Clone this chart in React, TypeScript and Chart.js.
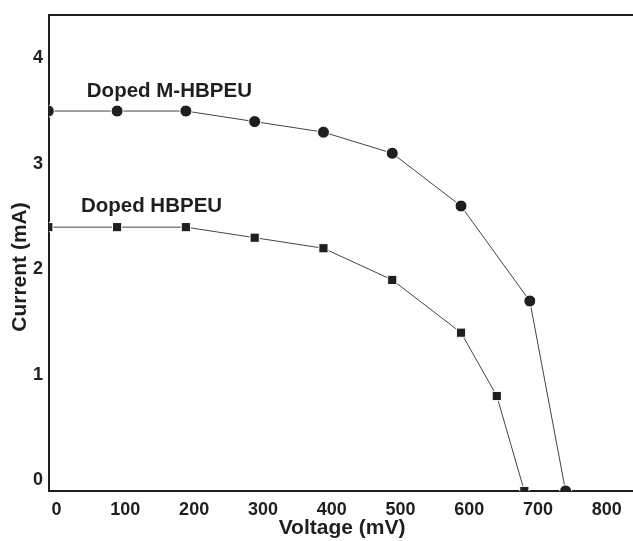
import React, { useEffect, useRef } from "react";
import { Chart, registerables } from "chart.js";

Chart.register(...registerables);

const voltageMHBPEU = [-12, 88, 188, 288, 388, 488, 588, 688, 740];
const currentMHBPEU = [3.5, 3.5, 3.5, 3.4, 3.3, 3.1, 2.6, 1.7, -0.1];
const voltageHBPEU = [-12, 88, 188, 288, 388, 488, 588, 640, 680];
const currentHBPEU = [2.4, 2.4, 2.4, 2.3, 2.2, 1.9, 1.4, 0.8, -0.1];
const xTicks = [0, 100, 200, 300, 400, 500, 600, 700, 800];
const yTicks = [0, 1, 2, 3, 4];
const seriesLabels = ["Doped M-HBPEU", "Doped HBPEU"];
const labelAnchorsX = [164, 138];
const labelAnchorsY = [3.69, 2.6];
const xTitle = "Voltage (mV)";
const yTitle = "Current (mA)";

const FONT = "'Liberation Sans', Arial, sans-serif";
const INK = "#1f1f1f";

const annotate = {
  id: "annotate",
  afterDraw(chart: any) {
    const { ctx, chartArea, scales } = chart;
    ctx.save();
    // top frame line
    ctx.strokeStyle = INK;
    ctx.lineWidth = 2;
    ctx.beginPath();
    ctx.moveTo(chartArea.left, chartArea.top);
    ctx.lineTo(chartArea.right, chartArea.top);
    ctx.stroke();
    // series labels
    ctx.fillStyle = INK;
    ctx.font = `bold 20.5px ${FONT}`;
    ctx.textAlign = "center";
    ctx.textBaseline = "middle";
    seriesLabels.forEach((t, i) => {
      ctx.fillText(t, scales.x.getPixelForValue(labelAnchorsX[i]), scales.y.getPixelForValue(labelAnchorsY[i]));
    });
    // axis titles
    ctx.font = `bold 21px ${FONT}`;
    ctx.fillText(xTitle, scales.x.getPixelForValue(415), chartArea.bottom + 37);
    ctx.translate(20, (chartArea.top + chartArea.bottom) / 2 + 14);
    ctx.rotate(-Math.PI / 2);
    ctx.fillText(yTitle, 0, 0);
    ctx.restore();
  },
};

export default function App() {
  const ref = useRef<HTMLCanvasElement>(null);
  useEffect(() => {
    if (!ref.current) return;
    const chart = new Chart(ref.current, {
      type: "scatter",
      data: {
        datasets: [
          {
            label: seriesLabels[0],
            data: voltageMHBPEU.map((x, i) => ({ x, y: currentMHBPEU[i] })),
            showLine: true,
            borderColor: "#444",
            borderWidth: 1,
            backgroundColor: INK,
            pointBackgroundColor: INK,
            pointBorderColor: "#fff",
            pointStyle: "circle",
            pointRadius: 6,
            pointBorderWidth: 1,
            clip: 0,
          },
          {
            label: seriesLabels[1],
            data: voltageHBPEU.map((x, i) => ({ x, y: currentHBPEU[i] })),
            showLine: true,
            borderColor: "#444",
            borderWidth: 1,
            backgroundColor: INK,
            pointBackgroundColor: INK,
            pointBorderColor: "#fff",
            pointStyle: "rect",
            pointRadius: 6.5,
            pointBorderWidth: 1,
            clip: 0,
          },
        ],
      },
      options: {
        animation: false,
        responsive: false,
        events: [],
        layout: { autoPadding: false, padding: { top: 15, right: 0, left: 0, bottom: 0 } },
        plugins: { legend: { display: false }, tooltip: { enabled: false } },
        scales: {
          x: {
            type: "linear",
            min: -11,
            max: 838,
            afterBuildTicks: (s: any) => {
              s.ticks = xTicks.map((v) => ({ value: v }));
            },
            afterFit: (s: any) => {
              s.height = 50;
              s.paddingLeft = 0;
              s.paddingRight = 0;
            },
            grid: { display: false, drawTicks: false },
            border: { display: true, color: INK, width: 2 },
            ticks: {
              color: INK,
              padding: 8,
              maxRotation: 0,
              autoSkip: false,
              font: { family: FONT, size: 18, weight: "bold" },
            },
          },
          y: {
            type: "linear",
            min: -0.1,
            max: 4.41,
            afterBuildTicks: (s: any) => {
              s.ticks = yTicks.map((v) => ({ value: v }));
            },
            afterFit: (s: any) => {
              s.width = 49;
              s.paddingTop = 0;
              s.paddingBottom = 0;
            },
            grid: { display: false, drawTicks: false },
            border: { display: true, color: INK, width: 2 },
            ticks: {
              color: INK,
              padding: 6,
              autoSkip: false,
              font: { family: FONT, size: 18, weight: "bold" },
            },
          },
        },
      },
      plugins: [annotate],
    });
    return () => chart.destroy();
  }, []);
  return (
    <div style={{ position: "fixed", left: 0, top: 0, width: 633, height: 541, background: "#fff" }}>
      <canvas ref={ref} width={633} height={541} style={{ display: "block", width: 633, height: 541 }} />
    </div>
  );
}
